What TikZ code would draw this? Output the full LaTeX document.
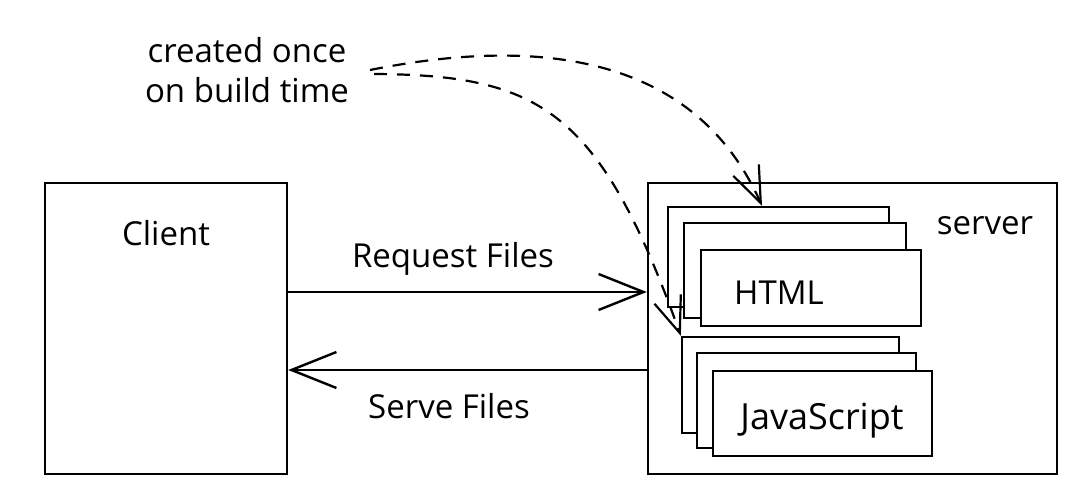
\documentclass[tikz,border=0pt]{standalone}
\usepackage{fontspec}
\setmainfont{Open Sans}
\usetikzlibrary{arrows.meta}
\begin{document}
\begin{tikzpicture}[x=1pt,y=-1pt,
  box/.style={draw, line width=2.4pt, fill=white, inner sep=0pt},
  lbl/.style={font=\fontsize{33}{40}\selectfont, inner sep=0pt},
  arr/.style={line width=2.4pt, -{Straight Barb[length=45pt,width=36pt,line width=2.4pt]}},
  darr/.style={line width=2.2pt, dash pattern=on 13pt off 10pt, -{Straight Barb[length=36pt,width=28pt,line width=2.2pt]}}
]
\useasboundingbox (0,0) rectangle (1084,494);
% main boxes
\node[box, minimum width=242pt, minimum height=291pt] (client) at (166,328.5) {};
\node[box, minimum width=409pt, minimum height=291pt] (server) at (852.5,328.5) {};
\node[lbl] (clientt) at (166,233) {Client};
\node[lbl] (servert) at (985,226) {server};
% HTML stack
\node[box, minimum width=221pt, minimum height=100pt] (hb) at (778.5,257) {};
\node[box, minimum width=222pt, minimum height=95pt] (hm) at (795,270.5) {};
\node[box, minimum width=220pt, minimum height=76pt] (hf) at (811,288) {};
\node[lbl] (htmlt) at (779,293) {HTML};
% JS stack
\node[box, minimum width=217pt, minimum height=96pt] (jb) at (790.5,385) {};
\node[box, minimum width=219pt, minimum height=95pt] (jm) at (806.5,400.5) {};
\node[box, minimum width=219pt, minimum height=85pt] (jf) at (822.5,413.5) {};
\node[lbl, font=\fontsize{36}{40}\selectfont] (jst) at (822,421) {JavaScript};
% request / serve
\draw[arr] ([yshift=36.5pt]client.east) -- ([yshift=36.5pt]server.west);
\draw[arr] ([yshift=-41.5pt]server.west) -- ([yshift=-41.5pt]client.east);
\node[lbl] (reqt) at (453,259) {Request Files};
\node[lbl] (servet) at (449,406) {Serve Files};
% annotation
\node[lbl, align=center] (note) at (247,70) {created once\\on build time};
\coordinate (s1) at (370,70);
\coordinate (s2) at (374,74);
\draw[darr] (s1) .. controls (520,40) and (690,45) .. ([xshift=-16.5pt]hb.north);
\draw[darr] (s2) .. controls (540,75) and (600,110) .. (jb.north west);
\end{tikzpicture}
\end{document}
